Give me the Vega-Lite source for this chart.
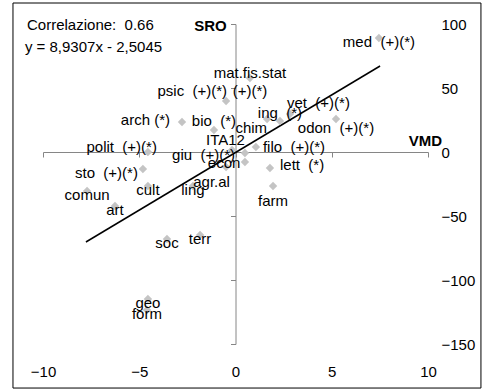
{
  "$schema": "https://vega.github.io/schema/vega-lite/v6.json",
  "width": 385,
  "height": 320,
  "autosize": "none",
  "padding": {"left": 43, "top": 24, "right": 55, "bottom": 46},
  "config": {
    "view": {"stroke": null},
    "font": "Liberation Sans",
    "text": {"font": "Liberation Sans", "fontSize": 15, "color": "#000000", "baseline": "middle"}
  },
  "data": {
    "values": [
      {"area": "med", "label": "med\u00a0 (+)(*)", "vmd": 7.45, "sro": 89.1},
      {"area": "mat.fis.stat", "label": "mat.fis.stat\n(+)(*)", "vmd": 0.75, "sro": 57.8},
      {"area": "psic", "label": "psic\u00a0 (+)(*)", "vmd": -0.49, "sro": 39.8},
      {"area": "arch", "label": "arch (*)", "vmd": -2.78, "sro": 23.4},
      {"area": "bio", "label": "bio\u00a0 (*)", "vmd": -1.12, "sro": 17.2},
      {"area": "chim", "label": "chim", "vmd": 1.64, "sro": 25.8},
      {"area": "ing", "label": "ing\u00a0 (*)", "vmd": 2.31, "sro": 24.2},
      {"area": "vet", "label": "vet\u00a0 (+)(*)", "vmd": 2.83, "sro": 29.7},
      {"area": "odon", "label": "odon\u00a0 (+)(*)", "vmd": 5.22, "sro": 25.8},
      {"area": "filo", "label": "filo\u00a0 (+)(*)", "vmd": 1.06, "sro": 3.9},
      {"area": "ITA12", "label": "ITA12", "vmd": 0.49, "sro": -0.8},
      {"area": "giu", "label": "giu\u00a0 (+)(*)", "vmd": -0.18, "sro": 1.6},
      {"area": "econ", "label": "econ", "vmd": -0.49, "sro": -11.7},
      {"area": "agr.al", "label": "agr.al", "vmd": 0.49, "sro": -7.8},
      {"area": "lett", "label": "lett\u00a0 (*)", "vmd": 1.79, "sro": -12.5},
      {"area": "farm", "label": "farm", "vmd": 1.95, "sro": -26.6},
      {"area": "polit", "label": "polit\u00a0 (+)(*)", "vmd": -4.55, "sro": 0},
      {"area": "sto", "label": "sto\u00a0 (+)(*)", "vmd": -4.81, "sro": -13.3},
      {"area": "comun", "label": "comun", "vmd": -7.71, "sro": -30.5},
      {"area": "cult", "label": "cult", "vmd": -4.55, "sro": -26.6},
      {"area": "art", "label": "art", "vmd": -6.26, "sro": -42.2},
      {"area": "ling", "label": "ling", "vmd": -2.21, "sro": -26.6},
      {"area": "soc", "label": "soc", "vmd": -3.56, "sro": -68.0},
      {"area": "terr", "label": "terr", "vmd": -1.84, "sro": -64.8},
      {"area": "geo", "label": "geo", "vmd": -4.55, "sro": -114.8},
      {"area": "form", "label": "form", "vmd": -4.6, "sro": -123.4}
    ]
  },
  "resolve": {"axis": {"x": "independent", "y": "independent"}},
  "layer": [
    {
      "data": {"values": [{"frame": "chart"}]},
      "mark": {"type": "rect", "fillOpacity": 0, "stroke": "#000000", "strokeWidth": 1},
      "encoding": {
        "x": {"datum": -11.56, "type": "quantitative", "scale": {"domain": [-10, 10], "nice": false, "zero": false}, "axis": null},
        "x2": {"datum": 12.75},
        "y": {"datum": 116.4, "type": "quantitative", "scale": {"domain": [-150, 100], "nice": false, "zero": false}, "axis": null},
        "y2": {"datum": -184.4}
      }
    },
    {
      "data": {"values": [{"vmd": -7.77, "sro": -70.3}, {"vmd": 7.51, "sro": 67.2}]},
      "mark": {"type": "line", "color": "#000000", "strokeWidth": 1.5},
      "encoding": {
        "x": {"field": "vmd", "type": "quantitative", "scale": {"domain": [-10, 10], "nice": false, "zero": false},
          "axis": {"orient": "bottom", "offset": -192, "domain": true, "domainColor": "#868686", "domainWidth": 1, "ticks": true, "tickColor": "#868686", "tickSize": 5, "tickWidth": 1, "labels": false, "grid": false, "values": [-10, -5, 0, 5, 10],
            "title": "VMD", "titleX": 382, "titleY": -12, "titleAlign": "center", "titleBaseline": "middle", "titleFont": "Liberation Sans", "titleFontSize": 15, "titleFontWeight": "bold", "titleColor": "#000000"}},
        "y": {"field": "sro", "type": "quantitative", "scale": {"domain": [-150, 100], "nice": false, "zero": false},
          "axis": {"orient": "left", "offset": -192.5, "domain": true, "domainColor": "#868686", "domainWidth": 1, "ticks": true, "tickColor": "#868686", "tickSize": 5, "tickWidth": 1, "labels": false, "grid": false, "values": [-150, -100, -50, 0, 50, 100],
            "title": "SRO", "titleAngle": 0, "titleX": -25.5, "titleY": 1, "titleAlign": "center", "titleBaseline": "middle", "titleFont": "Liberation Sans", "titleFontSize": 15, "titleFontWeight": "bold", "titleColor": "#000000"}}
      }
    },
    {
      "mark": {"type": "point", "shape": "diamond", "filled": true, "size": 70, "color": "#C4C4C4", "opacity": 1},
      "encoding": {
        "x": {"field": "vmd", "type": "quantitative", "scale": {"domain": [-10, 10], "nice": false, "zero": false},
          "axis": {"orient": "bottom", "domain": false, "ticks": false, "tickSize": 0, "grid": false, "labelPadding": 20, "labelFlush": false, "values": [-10, -5, 0, 5, 10], "title": null, "labelFont": "Liberation Sans", "labelFontSize": 15, "labelColor": "#000000"}},
        "y": {"field": "sro", "type": "quantitative", "scale": {"domain": [-150, 100], "nice": false, "zero": false},
          "axis": {"orient": "right", "domain": false, "ticks": false, "tickSize": 0, "grid": false, "labelPadding": 13, "labelAlign": "left", "labelBaseline": "middle", "values": [-150, -100, -50, 0, 50, 100], "title": null, "labelFont": "Liberation Sans", "labelFontSize": 15, "labelColor": "#000000"}}
      }
    },
    {
      "transform": [{"filter": {"field": "area", "oneOf": ["med", "comun", "cult", "art", "ling", "soc", "terr", "geo", "form"]}}],
      "mark": {"type": "text", "align": "center", "dx": 0, "dy": 4},
      "encoding": {"x": {"field": "vmd", "type": "quantitative", "axis": null}, "y": {"field": "sro", "type": "quantitative", "axis": null}, "text": {"field": "label"}}
    },
    {
      "transform": [{"filter": {"field": "area", "oneOf": ["mat.fis.stat"]}}],
      "mark": {"type": "text", "align": "center", "dx": 0, "dy": -5, "lineBreak": "\n", "lineHeight": 18},
      "encoding": {"x": {"field": "vmd", "type": "quantitative", "axis": null}, "y": {"field": "sro", "type": "quantitative", "axis": null}, "text": {"field": "label"}}
    },
    {
      "transform": [{"filter": {"field": "area", "oneOf": ["econ"]}}],
      "mark": {"type": "text", "align": "center", "dx": -2, "dy": -4},
      "encoding": {"x": {"field": "vmd", "type": "quantitative", "axis": null}, "y": {"field": "sro", "type": "quantitative", "axis": null}, "text": {"field": "label"}}
    },
    {
      "transform": [{"filter": {"field": "area", "oneOf": ["farm"]}}],
      "mark": {"type": "text", "align": "center", "dx": 0, "dy": 15},
      "encoding": {"x": {"field": "vmd", "type": "quantitative", "axis": null}, "y": {"field": "sro", "type": "quantitative", "axis": null}, "text": {"field": "label"}}
    },
    {
      "transform": [{"filter": {"field": "area", "oneOf": ["odon"]}}],
      "mark": {"type": "text", "align": "center", "dx": 0, "dy": 9},
      "encoding": {"x": {"field": "vmd", "type": "quantitative", "axis": null}, "y": {"field": "sro", "type": "quantitative", "axis": null}, "text": {"field": "label"}}
    },
    {
      "transform": [{"filter": {"field": "area", "oneOf": ["ing", "bio"]}}],
      "mark": {"type": "text", "align": "center", "dx": 0, "dy": -8.5},
      "encoding": {"x": {"field": "vmd", "type": "quantitative", "axis": null}, "y": {"field": "sro", "type": "quantitative", "axis": null}, "text": {"field": "label"}}
    },
    {
      "transform": [{"filter": {"field": "area", "oneOf": ["chim"]}}],
      "mark": {"type": "text", "align": "right", "dx": 0, "dy": 9},
      "encoding": {"x": {"field": "vmd", "type": "quantitative", "axis": null}, "y": {"field": "sro", "type": "quantitative", "axis": null}, "text": {"field": "label"}}
    },
    {
      "transform": [{"filter": {"field": "area", "oneOf": ["ITA12"]}}],
      "mark": {"type": "text", "align": "right", "dx": 0, "dy": -13},
      "encoding": {"x": {"field": "vmd", "type": "quantitative", "axis": null}, "y": {"field": "sro", "type": "quantitative", "axis": null}, "text": {"field": "label"}}
    },
    {
      "transform": [{"filter": {"field": "area", "oneOf": ["psic"]}}],
      "mark": {"type": "text", "align": "right", "dx": 1, "dy": -10},
      "encoding": {"x": {"field": "vmd", "type": "quantitative", "axis": null}, "y": {"field": "sro", "type": "quantitative", "axis": null}, "text": {"field": "label"}}
    },
    {
      "transform": [{"filter": {"field": "area", "oneOf": ["arch"]}}],
      "mark": {"type": "text", "align": "right", "dx": -12, "dy": -2},
      "encoding": {"x": {"field": "vmd", "type": "quantitative", "axis": null}, "y": {"field": "sro", "type": "quantitative", "axis": null}, "text": {"field": "label"}}
    },
    {
      "transform": [{"filter": {"field": "area", "oneOf": ["sto"]}}],
      "mark": {"type": "text", "align": "right", "dx": -5, "dy": 4},
      "encoding": {"x": {"field": "vmd", "type": "quantitative", "axis": null}, "y": {"field": "sro", "type": "quantitative", "axis": null}, "text": {"field": "label"}}
    },
    {
      "transform": [{"filter": {"field": "area", "oneOf": ["polit"]}}],
      "mark": {"type": "text", "align": "right", "dx": 9, "dy": -5},
      "encoding": {"x": {"field": "vmd", "type": "quantitative", "axis": null}, "y": {"field": "sro", "type": "quantitative", "axis": null}, "text": {"field": "label"}}
    },
    {
      "transform": [{"filter": {"field": "area", "oneOf": ["giu"]}}],
      "mark": {"type": "text", "align": "right", "dx": 3, "dy": 5},
      "encoding": {"x": {"field": "vmd", "type": "quantitative", "axis": null}, "y": {"field": "sro", "type": "quantitative", "axis": null}, "text": {"field": "label"}}
    },
    {
      "transform": [{"filter": {"field": "area", "oneOf": ["agr.al"]}}],
      "mark": {"type": "text", "align": "right", "dx": -15, "dy": 20},
      "encoding": {"x": {"field": "vmd", "type": "quantitative", "axis": null}, "y": {"field": "sro", "type": "quantitative", "axis": null}, "text": {"field": "label"}}
    },
    {
      "transform": [{"filter": {"field": "area", "oneOf": ["filo"]}}],
      "mark": {"type": "text", "align": "left", "dx": 7, "dy": 0},
      "encoding": {"x": {"field": "vmd", "type": "quantitative", "axis": null}, "y": {"field": "sro", "type": "quantitative", "axis": null}, "text": {"field": "label"}}
    },
    {
      "transform": [{"filter": {"field": "area", "oneOf": ["lett"]}}],
      "mark": {"type": "text", "align": "left", "dx": 10, "dy": -3},
      "encoding": {"x": {"field": "vmd", "type": "quantitative", "axis": null}, "y": {"field": "sro", "type": "quantitative", "axis": null}, "text": {"field": "label"}}
    },
    {
      "transform": [{"filter": {"field": "area", "oneOf": ["vet"]}}],
      "mark": {"type": "text", "align": "left", "dx": -3, "dy": -11},
      "encoding": {"x": {"field": "vmd", "type": "quantitative", "axis": null}, "y": {"field": "sro", "type": "quantitative", "axis": null}, "text": {"field": "label"}}
    },
    {
      "data": {"values": [{"note": "Correlazione:\u00a0 0.66", "vmd": -10.83, "sro": 99.2}, {"note": "y = 8,9307x - 2,5045", "vmd": -10.94, "sro": 82.0}]},
      "mark": {"type": "text", "align": "left"},
      "encoding": {"x": {"field": "vmd", "type": "quantitative", "axis": null}, "y": {"field": "sro", "type": "quantitative", "axis": null}, "text": {"field": "note"}}
    }
  ]
}
